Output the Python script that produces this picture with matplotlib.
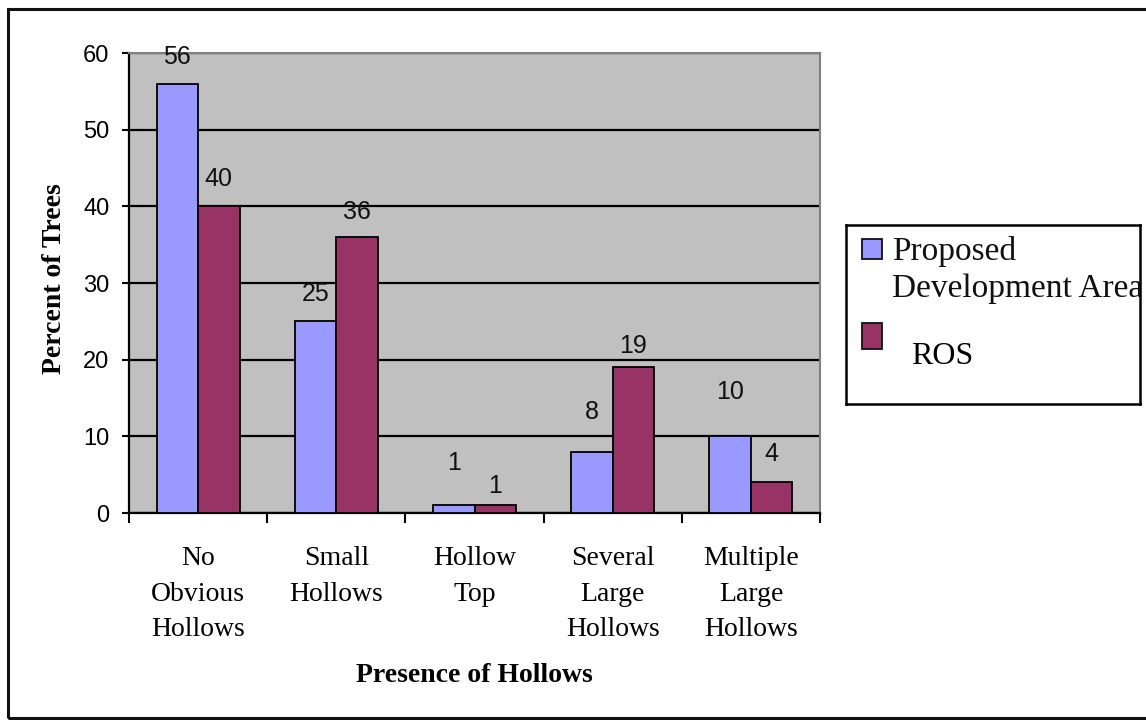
import numpy as np
import matplotlib.pyplot as plt
from matplotlib.patches import Rectangle

categories = ["No\nObvious\nHollows", "Small\nHollows", "Hollow\nTop",
              "Several\nLarge\nHollows", "Multiple\nLarge\nHollows"]
series_names = ["Proposed\nDevelopment Area", "ROS"]
pda_values = [56, 25, 1, 8, 10]
ros_values = [40, 36, 1, 19, 4]
y_ticks = [0, 10, 20, 30, 40, 50, 60]

# how far each value label sits above its bar (pixels)
pda_label_offset = [27, 27, 42, 40, 44]
ros_label_offset = [27, 25, 19, 21, 28]

colors = ["#9999FF", "#993366"]
W, H = 1146, 720

fig = plt.figure(figsize=(W / 100, H / 100), dpi=100)
fig.patch.set_facecolor("white")

# outer frame around the whole chart
fig.add_artist(Rectangle((8 / W, 1 - 718 / H), 1.2, (718 - 9) / H,
                         transform=fig.transFigure, fill=False,
                         edgecolor="#111111", linewidth=2.2))

ax = fig.add_axes([129 / W, 1 - 513 / H, 691 / W, 460 / H])
ax.set_facecolor("#C0C0C0")

x = np.arange(len(categories))
bw = 0.3
for i, (vals, offs) in enumerate([(pda_values, pda_label_offset),
                                  (ros_values, ros_label_offset)]):
    pos = x + (i - 0.5) * bw
    ax.bar(pos, vals, width=bw, color=colors[i], edgecolor="black",
           linewidth=1.3, zorder=3)
    for px, v, off in zip(pos, vals, offs):
        ax.annotate(str(v), (px, v), xytext=(0, off), textcoords="offset pixels",
                    ha="center", va="center", fontsize=18,
                    family="Liberation Sans", color="#111111", zorder=4)

ax.set_xlim(-0.5, len(categories) - 0.5)
ax.set_ylim(0, 60)
ax.set_yticks(y_ticks)
ax.set_yticklabels([str(t) for t in y_ticks], family="Liberation Sans", fontsize=17)
ax.yaxis.grid(True, color="black", linewidth=1.6, zorder=1)
ax.set_axisbelow(True)

ax.set_xticks(x)
ax.set_xticklabels(categories, family="Liberation Serif", fontsize=20,
                   linespacing=1.55)
ax.set_xticks(np.arange(len(categories) + 1) - 0.5, minor=True)
ax.tick_params(axis="x", which="major", length=0, pad=24)
ax.tick_params(axis="x", which="minor", length=7, width=1.5, direction="out")
ax.tick_params(axis="y", length=5, width=1.5, direction="out", pad=9)

for side in ["top", "right"]:
    ax.spines[side].set_color("#808080")
    ax.spines[side].set_linewidth(1.5)
for side in ["left", "bottom"]:
    ax.spines[side].set_color("black")
    ax.spines[side].set_linewidth(1.6)

ax.set_ylabel("Percent of Trees", family="Liberation Serif", fontweight="bold",
              fontsize=20)
ax.set_xlabel("Presence of Hollows", family="Liberation Serif", fontweight="bold",
              fontsize=20)
ax.yaxis.set_label_coords(-62 / 691, 0.51)
ax.xaxis.set_label_coords(0.5, -150 / 460)

# legend box, text clipped at its right edge
lax = fig.add_axes([846 / W, 1 - 404 / H, (1140 - 846) / W, (404 - 225) / H])
lax.set_xlim(0, 294)
lax.set_ylim(179, 0)
lax.set_xticks([])
lax.set_yticks([])
for s in lax.spines.values():
    s.set_linewidth(1.8)
    s.set_color("black")
lax.add_patch(Rectangle((16, 14), 20, 20, facecolor=colors[0],
                        edgecolor="#111111", linewidth=1.3))
lax.add_patch(Rectangle((16, 98), 20, 26, facecolor=colors[1],
                        edgecolor="#111111", linewidth=1.3))
lax.text(46, 45, series_names[0], family="Liberation Serif", fontsize=24,
         va="center", ha="left", linespacing=1.25, clip_on=True, color="#111111")
lax.text(65, 131, series_names[1], family="Liberation Serif", fontsize=23,
         va="center", ha="left", clip_on=True, color="black")

fig.savefig("out.png", dpi=100)
